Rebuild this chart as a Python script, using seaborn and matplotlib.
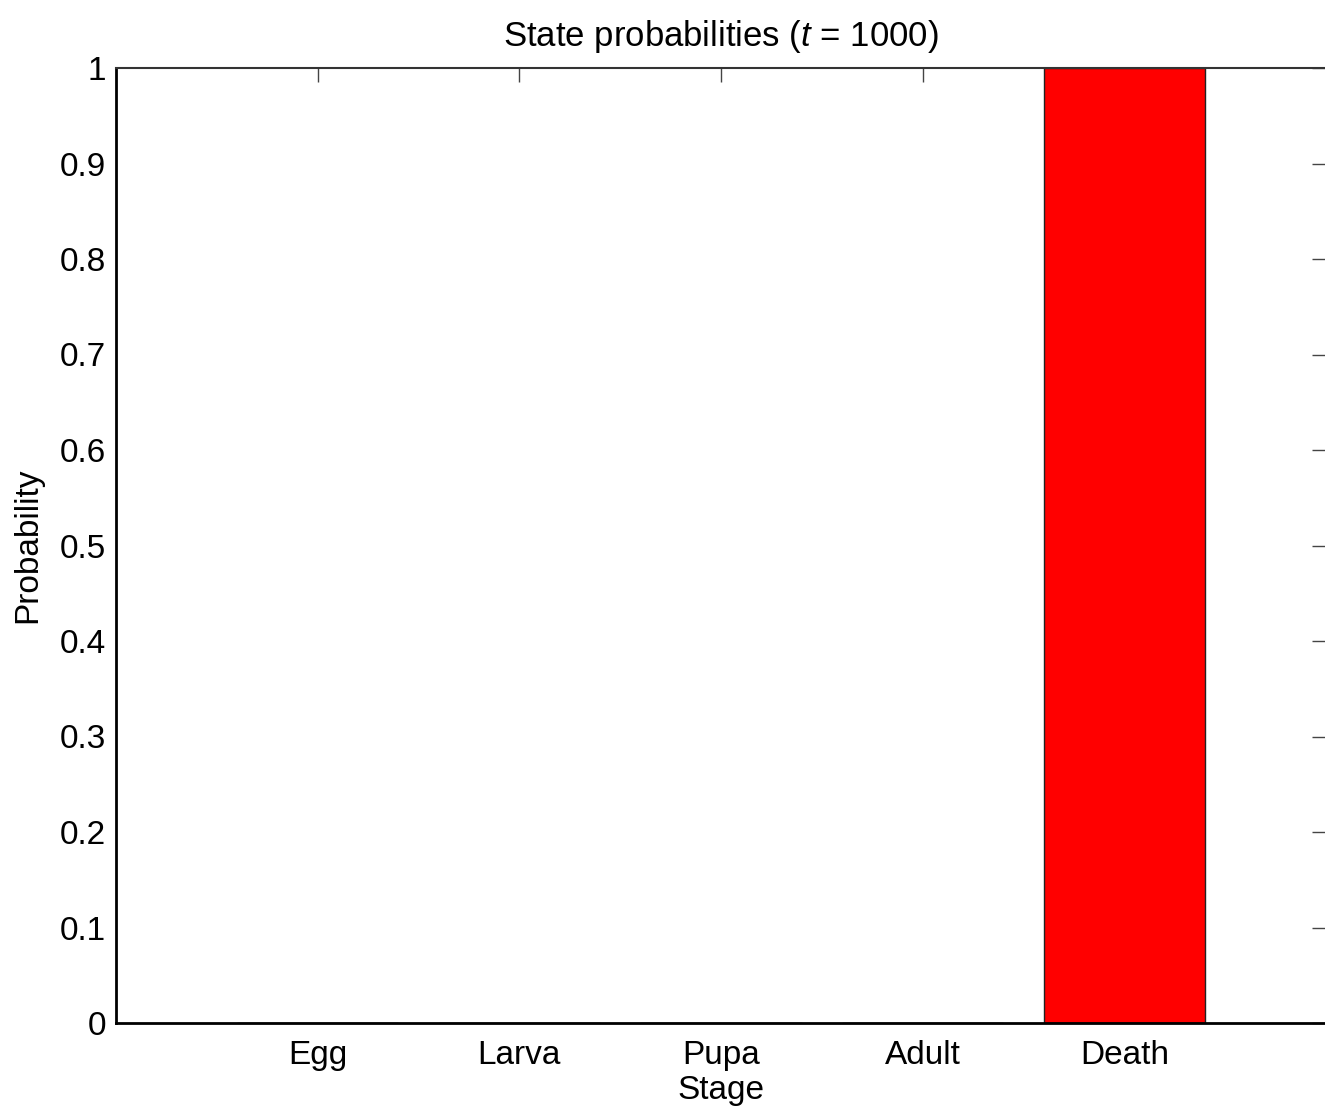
import matplotlib
matplotlib.use("Agg")
import matplotlib.pyplot as plt
import seaborn as sns
import pandas as pd

stages = ["Egg", "Larva", "Pupa", "Adult", "Death"]
probabilities = [0.0, 0.0, 0.0, 0.0, 1.0]
yticks = [0, 0.1, 0.2, 0.3, 0.4, 0.5, 0.6, 0.7, 0.8, 0.9, 1]
ytick_labels = ["0", "0.1", "0.2", "0.3", "0.4", "0.5", "0.6", "0.7", "0.8", "0.9", "1"]

sns.set_style("white")
plt.rcParams["font.family"] = ["Liberation Sans", "DejaVu Sans"]
plt.rcParams["mathtext.fontset"] = "custom"
plt.rcParams["mathtext.it"] = "Liberation Sans:italic"
plt.rcParams["mathtext.rm"] = "Liberation Sans"
plt.rcParams["text.color"] = "black"
plt.rcParams["axes.labelcolor"] = "black"
plt.rcParams["xtick.labelcolor"] = "black"
plt.rcParams["ytick.labelcolor"] = "black"

FS = 24

df = pd.DataFrame({"Stage": stages, "Probability": probabilities})

fig = plt.figure(figsize=(13.25, 11.15), dpi=100)
ax = fig.add_axes([116 / 1325, 1 - 1023 / 1115, (1326 - 116) / 1325, (1023 - 68) / 1115])

sns.barplot(data=df, x="Stage", y="Probability", color="#ff0000", saturation=1,
            edgecolor="#222222", linewidth=1.0, width=0.8, ax=ax)

ax.set_xlim(-1, 5)
ax.set_ylim(0, 1)
ax.set_yticks(yticks)
ax.set_yticklabels(ytick_labels)

for side in ["left", "bottom"]:
    ax.spines[side].set_linewidth(2.0)
    ax.spines[side].set_color("black")
for side in ["top", "right"]:
    ax.spines[side].set_visible(True)
    ax.spines[side].set_linewidth(1.5)
    ax.spines[side].set_color("#333333")

ax.tick_params(axis="both", which="both", direction="in", length=10, width=1,
               color="#444444", labelsize=FS, labelcolor="black", top=True, right=True,
               labeltop=False, labelright=False)
ax.tick_params(axis="y", pad=7)
ax.tick_params(axis="x", pad=12)

ax.set_xlabel("Stage", fontsize=FS, labelpad=3, color="black")
ax.set_ylabel("Probability", fontsize=FS, labelpad=12, color="black")
ax.set_title(r"State probabilities ($\mathit{t}$ = 1000)", fontsize=25, pad=16, color="black")

fig.savefig("out.png", dpi=100)
